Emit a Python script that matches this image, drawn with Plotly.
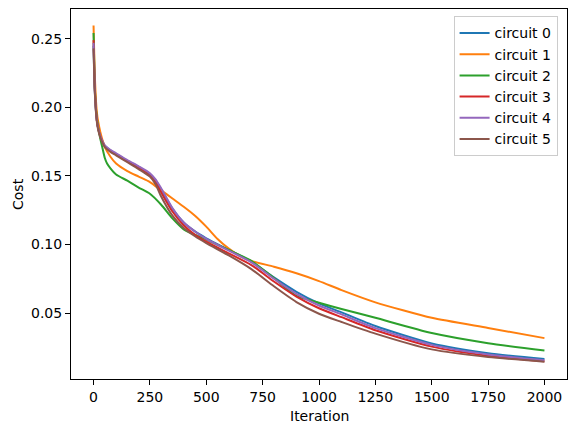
import plotly.graph_objects as go

# values, per circuit
iters_a = [0, 5, 10, 15, 20, 30, 40, 50, 75, 100, 150, 200, 250, 275, 300, 350, 400,
           450, 500, 600, 700, 800, 900, 1000, 1100, 1250, 1500, 1750, 2000]

circuit0 = [0.245, 0.214, 0.199, 0.190, 0.185, 0.179, 0.175, 0.172, 0.1685, 0.1660, 0.1610,
            0.1565, 0.1510, 0.1470, 0.1400, 0.1260, 0.1160, 0.1095, 0.1045, 0.0960, 0.0875,
            0.0760, 0.0655, 0.0570, 0.0505, 0.0405, 0.0278, 0.0207, 0.0165]
circuit3 = [0.249, 0.216, 0.200, 0.190, 0.185, 0.179, 0.175, 0.172, 0.1680, 0.1655, 0.1605,
            0.1560, 0.1500, 0.1455, 0.1380, 0.1240, 0.1140, 0.1070, 0.1020, 0.0935, 0.0850,
            0.0730, 0.0620, 0.0535, 0.0470, 0.0375, 0.0255, 0.0188, 0.0148]
circuit4 = [0.247, 0.215, 0.199, 0.190, 0.185, 0.179, 0.175, 0.172, 0.1690, 0.1665, 0.1615,
            0.1570, 0.1520, 0.1475, 0.1410, 0.1265, 0.1160, 0.1095, 0.1040, 0.0955, 0.0870,
            0.0750, 0.0640, 0.0555, 0.0490, 0.0390, 0.0268, 0.0198, 0.0155]
circuit5 = [0.243, 0.213, 0.198, 0.189, 0.184, 0.178, 0.174, 0.171, 0.1675, 0.1650, 0.1600,
            0.1550, 0.1495, 0.1440, 0.1350, 0.1210, 0.1120, 0.1060, 0.1010, 0.0920, 0.0820,
            0.0695, 0.0580, 0.0495, 0.0435, 0.0350, 0.0235, 0.0179, 0.0145]

iters_1 = [0, 5, 10, 15, 20, 30, 40, 50, 75, 100, 150, 200, 250, 300, 350, 400, 450, 500,
           550, 600, 650, 700, 800, 900, 1000, 1100, 1250, 1500, 1750, 2000]
circuit1 = [0.2597, 0.226, 0.207, 0.196, 0.190, 0.182, 0.176, 0.171, 0.164, 0.159, 0.1535,
            0.1495, 0.1455, 0.1395, 0.1335, 0.1275, 0.1210, 0.1130, 0.1040, 0.0970, 0.0915,
            0.0880, 0.0838, 0.0790, 0.0733, 0.0667, 0.0578, 0.0465, 0.0391, 0.0317]

iters_2 = [0, 5, 10, 15, 20, 30, 40, 50, 60, 75, 100, 150, 200, 250, 300, 350, 400, 500,
           600, 700, 800, 900, 1000, 1100, 1250, 1500, 1750, 2000]
circuit2 = [0.2542, 0.218, 0.201, 0.192, 0.186, 0.177, 0.170, 0.163, 0.1590, 0.1555, 0.1510,
            0.1465, 0.1415, 0.1370, 0.1290, 0.1190, 0.1110, 0.1035, 0.0960, 0.0880, 0.0755,
            0.0625, 0.0575, 0.0530, 0.0465, 0.0354, 0.0280, 0.0227]

names = ['circuit 0', 'circuit 1', 'circuit 2', 'circuit 3', 'circuit 4', 'circuit 5']
xs = [iters_a, iters_1, iters_2, iters_a, iters_a, iters_a]
ys = [circuit0, circuit1, circuit2, circuit3, circuit4, circuit5]
colors = ['#1f77b4', '#ff7f0e', '#2ca02c', '#d62728', '#9467bd', '#8c564b']

fig = go.Figure()
for name, x, y, c in zip(names, xs, ys, colors):
    fig.add_trace(go.Scatter(
        x=x, y=y, name=name, mode='lines',
        line=dict(color=c, width=2, shape='spline', smoothing=0.6)
    ))

fig.update_layout(
    width=576, height=432,
    plot_bgcolor='white',
    paper_bgcolor='white',
    font=dict(family='DejaVu Sans', size=14, color='black'),
    margin=dict(l=71, r=9, t=9, b=53, autoexpand=False),
    legend=dict(
        x=0.981, y=0.98, xanchor='right', yanchor='top',
        bordercolor='#cccccc', borderwidth=1, bgcolor='rgba(255,255,255,0.8)',
        font=dict(size=14), itemwidth=30, tracegroupgap=0
    ),
    annotations=[
        dict(text='Iteration', x=0.5, y=0, xref='paper', yref='paper',
             xanchor='center', yanchor='middle', yshift=-37, showarrow=False,
             font=dict(size=14)),
        dict(text='Cost', x=0, y=0.5, xref='paper', yref='paper',
             xanchor='center', yanchor='middle', xshift=-53, textangle=-90,
             showarrow=False, font=dict(size=14)),
    ]
)

fig.update_xaxes(
    range=[-100, 2100], tickvals=[0, 250, 500, 750, 1000, 1250, 1500, 1750, 2000],
    showgrid=False, zeroline=False, showline=True, linecolor='black', linewidth=1,
    mirror=True, ticks='outside', ticklen=5, tickcolor='black', automargin=False
)
fig.update_yaxes(
    range=[0.0019, 0.2717], tickvals=[0.05, 0.10, 0.15, 0.20, 0.25], tickformat='.2f',
    showgrid=False, zeroline=False, showline=True, linecolor='black', linewidth=1,
    mirror=True, ticks='outside', ticklen=5, tickcolor='black', automargin=False
)

# drop the page's default body margin so the figure sits at the window's corner
fig.write_html("out.html", config={'displayModeBar': False},
               post_script="document.body.style.margin='0';")
